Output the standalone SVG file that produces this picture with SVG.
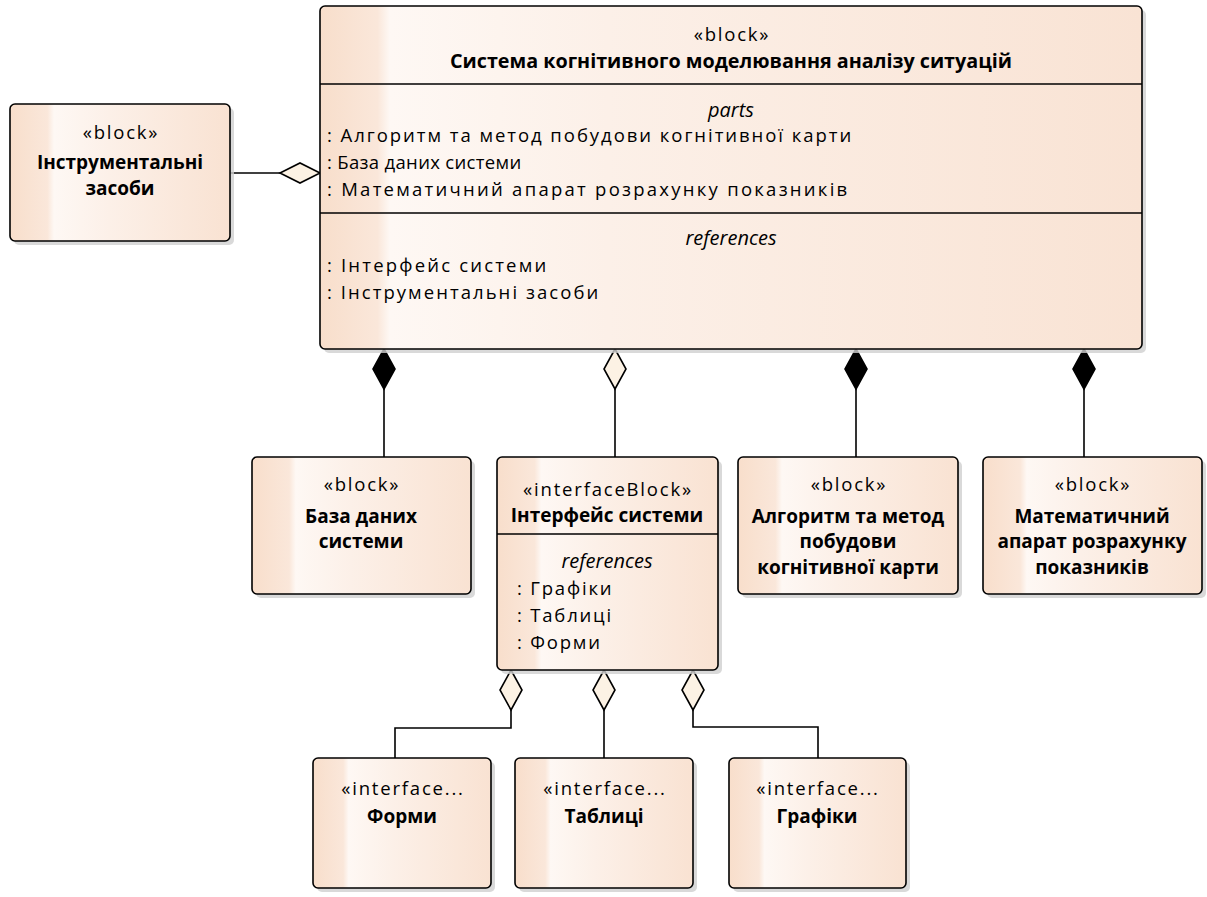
<svg xmlns="http://www.w3.org/2000/svg" width="1207" height="897" viewBox="0 0 1207 897">
<defs>
<linearGradient id="g" x1="0" y1="0" x2="1" y2="0">
<stop offset="0" stop-color="#F8DECB"/>
<stop offset="0.17" stop-color="#FAE7DA"/>
<stop offset="0.2" stop-color="#FEF8F4"/>
<stop offset="0.45" stop-color="#FCF0E8"/>
<stop offset="1" stop-color="#F9E2D2"/>
</linearGradient>
<linearGradient id="gm" x1="0" y1="0" x2="1" y2="0">
<stop offset="0" stop-color="#F8DECB"/>
<stop offset="0.07" stop-color="#FAE7DA"/>
<stop offset="0.085" stop-color="#FEF8F4"/>
<stop offset="0.35" stop-color="#FCF0E8"/>
<stop offset="1" stop-color="#F9E3D4"/>
</linearGradient>
</defs>
<style>
.sh{fill:#cfcfcf;opacity:0.8}
.bx{fill:url(#g);stroke:#000;stroke-width:1.6}
.bm{fill:url(#gm);stroke:#000;stroke-width:1.6}
.dv{stroke:#000;stroke-width:1.4}
text{font-family:"Open Sans","Noto Sans",sans-serif;font-size:18.5px;fill:#000;letter-spacing:1.8px}
.c{text-anchor:middle}
.b{font-weight:bold;font-size:19px;letter-spacing:0}
.i{font-style:italic;font-size:20px;letter-spacing:0}
.ln{fill:none;stroke:#000;stroke-width:1.6}
.dh{fill:#FCF2E4;stroke:#000;stroke-width:1.6}
.df{fill:#000;stroke:#000;stroke-width:1.6}
</style>

<g id="connectors">
<path class="ln" d="M230,173 H280"/>
<path class="dh" d="M320,173 L300,163 L280,173 L300,183 Z"/>
<path class="ln" d="M384,389 V457"/>
<path class="df" d="M384,349 L373,369 L384,389 L395,369 Z"/>
<path class="ln" d="M615,389 V457"/>
<path class="dh" d="M615,349 L604,369 L615,389 L626,369 Z"/>
<path class="ln" d="M856,389 V457"/>
<path class="df" d="M856,349 L845,369 L856,389 L867,369 Z"/>
<path class="ln" d="M1084,389 V457"/>
<path class="df" d="M1084,349 L1073,369 L1084,389 L1095,369 Z"/>
<path class="ln" d="M511,710 V728 H395 V758"/>
<path class="dh" d="M511,670 L500,690 L511,710 L522,690 Z"/>
<path class="ln" d="M604,710 V758"/>
<path class="dh" d="M604,670 L593,690 L604,710 L615,690 Z"/>
<path class="ln" d="M693,710 V727 H818 V758"/>
<path class="dh" d="M693,670 L682,690 L693,710 L704,690 Z"/>
</g>

<g id="main">
<rect class="sh" x="324" y="10" width="822" height="343" rx="5"/>
<rect class="bm" x="320" y="6" width="822" height="343" rx="5"/>
<line class="dv" x1="320" y1="84" x2="1142" y2="84"/>
<line class="dv" x1="320" y1="213" x2="1142" y2="213"/>
<text class="c" x="732" y="41">«block»</text>
<text class="c b" x="731" y="68" textLength="562" lengthAdjust="spacingAndGlyphs">Система когнітивного моделювання аналізу ситуацій</text>
<text class="c i" x="731" y="117">parts</text>
<text x="327" y="142" textLength="526" lengthAdjust="spacing">: Алгоритм та метод побудови когнітивної карти</text>
<text x="327" y="169" textLength="196" lengthAdjust="spacing">: База даних системи</text>
<text x="327" y="196" textLength="522" lengthAdjust="spacing">: Математичний апарат розрахунку показників</text>
<text class="c i" x="731" y="245">references</text>
<text x="327" y="272" textLength="221" lengthAdjust="spacing">: Інтерфейс системи</text>
<text x="327" y="299" textLength="273" lengthAdjust="spacing">: Інструментальні засоби</text>
</g>

<g id="instr">
<rect class="sh" x="14" y="108" width="220" height="137" rx="5"/>
<rect class="bx" x="10" y="104" width="220" height="137" rx="5"/>
<text class="c" x="121" y="139">«block»</text>
<text class="c b" x="120" y="169">Інструментальні</text>
<text class="c b" x="120" y="195">засоби</text>
</g>

<g id="db">
<rect class="sh" x="256" y="461" width="219" height="137" rx="5"/>
<rect class="bx" x="252" y="457" width="219" height="137" rx="5"/>
<text class="c" x="362" y="491">«block»</text>
<text class="c b" x="361" y="523">База даних</text>
<text class="c b" x="361" y="548">системи</text>
</g>

<g id="iface">
<rect class="sh" x="501" y="461" width="221" height="213" rx="5"/>
<rect class="bx" x="497" y="457" width="221" height="213" rx="5"/>
<line class="dv" x1="497" y1="534" x2="718" y2="534"/>
<text class="c" x="608" y="496">«interfaceBlock»</text>
<text class="c b" x="607" y="522">Інтерфейс системи</text>
<text class="c i" x="607" y="568">references</text>
<text x="517" y="595">: Графіки</text>
<text x="517" y="622">: Таблиці</text>
<text x="517" y="649">: Форми</text>
</g>

<g id="algo">
<rect class="sh" x="742" y="461" width="220" height="137" rx="5"/>
<rect class="bx" x="738" y="457" width="220" height="137" rx="5"/>
<text class="c" x="849" y="491">«block»</text>
<text class="c b" x="848" y="523">Алгоритм та метод</text>
<text class="c b" x="848" y="548">побудови</text>
<text class="c b" x="848" y="574">когнітивної карти</text>
</g>

<g id="math">
<rect class="sh" x="987" y="461" width="219" height="137" rx="5"/>
<rect class="bx" x="983" y="457" width="219" height="137" rx="5"/>
<text class="c" x="1093" y="491">«block»</text>
<text class="c b" x="1092" y="523">Математичний</text>
<text class="c b" x="1092" y="548">апарат розрахунку</text>
<text class="c b" x="1092" y="574">показників</text>
</g>

<g id="forms">
<rect class="sh" x="317" y="762" width="178" height="130" rx="5"/>
<rect class="bx" x="313" y="758" width="178" height="130" rx="5"/>
<text class="c" x="403" y="795">«interface...</text>
<text class="c b" x="402" y="823">Форми</text>
</g>

<g id="tables">
<rect class="sh" x="519" y="762" width="178" height="130" rx="5"/>
<rect class="bx" x="515" y="758" width="178" height="130" rx="5"/>
<text class="c" x="605" y="795">«interface...</text>
<text class="c b" x="604" y="823">Таблиці</text>
</g>

<g id="graphs">
<rect class="sh" x="733" y="762" width="177" height="130" rx="5"/>
<rect class="bx" x="729" y="758" width="177" height="130" rx="5"/>
<text class="c" x="818" y="795">«interface...</text>
<text class="c b" x="817" y="823">Графіки</text>
</g>
</svg>
